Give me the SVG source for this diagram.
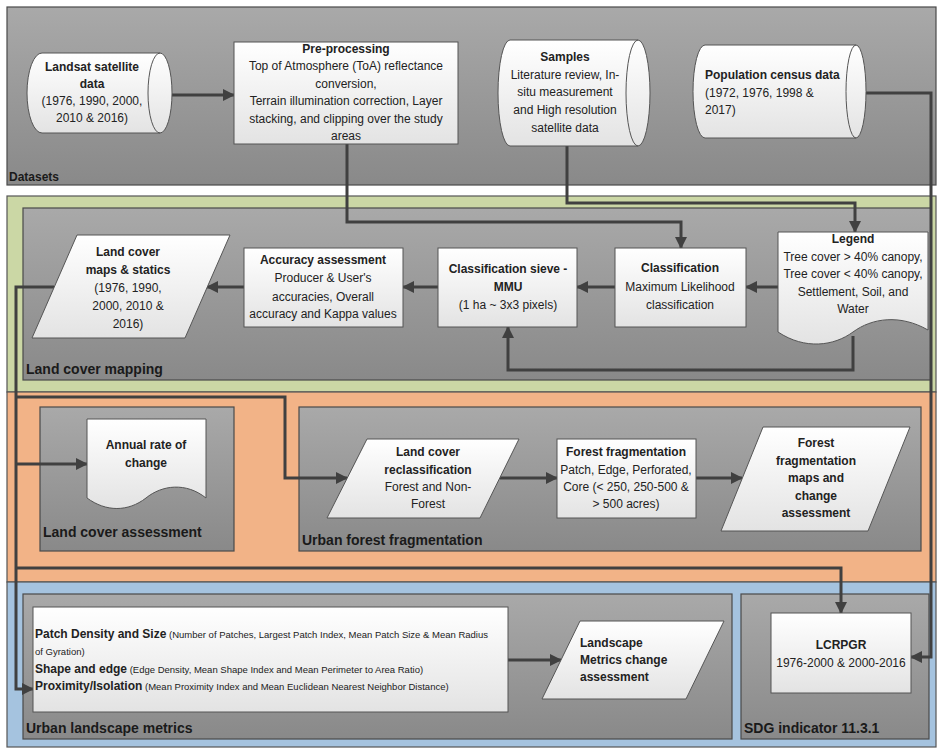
<svg xmlns="http://www.w3.org/2000/svg" width="938" height="749" viewBox="0 0 938 749">
<defs>
<linearGradient id="gp" x1="0" y1="0" x2="0" y2="1"><stop offset="0" stop-color="#a9a9a9"/><stop offset="1" stop-color="#898989"/></linearGradient>
<linearGradient id="gn" x1="0" y1="0" x2="0" y2="1"><stop offset="0" stop-color="#ffffff"/><stop offset="1" stop-color="#e3e3e3"/></linearGradient>
<marker id="ah" viewBox="0 0 12 12" refX="11" refY="6" markerWidth="12" markerHeight="12" markerUnits="userSpaceOnUse" orient="auto"><path d="M0,0 L12,6 L0,12 Z" fill="#404040"/></marker>
<style>
.band{stroke:#555;stroke-width:1.2}
.panel{fill:url(#gp);stroke:#4a4a4a;stroke-width:1.2}
.node{fill:url(#gn);stroke:#555;stroke-width:1}
.t{font-family:"Liberation Sans",Arial,sans-serif;font-size:12px;fill:#222}
.b{font-weight:bold}
.c{text-anchor:middle}
.lab{font-family:"Liberation Sans",Arial,sans-serif;font-size:14px;font-weight:bold;fill:#1a1a1a}
.s{font-size:9.5px;font-weight:normal}
.con{fill:none;stroke:#404040;stroke-width:3}
.arr{marker-end:url(#ah)}
</style>
</defs>
<rect width="938" height="749" fill="#ffffff"/>

<g id="band-datasets">
<rect class="panel" x="7" y="7" width="929" height="178"/>
<text class="lab" x="9" y="181" style="font-size:12px">Datasets</text>
</g>
<g id="band-landcover">
<rect class="band" x="7" y="196" width="929" height="196" fill="#cbd7a5"/>
<rect class="panel" x="23" y="208" width="908" height="172"/>
<text class="lab" x="26" y="374">Land cover mapping</text>
</g>
<g id="band-orange">
<rect class="band" x="7" y="392" width="929" height="190" fill="#f2b387"/>
</g>
<g id="panel-lca">
<rect class="panel" x="40" y="407" width="194" height="144"/>
<text class="lab" x="43" y="537">Land cover assessment</text>
</g>
<g id="panel-uff">
<rect class="panel" x="299" y="407" width="622" height="144"/>
<text class="lab" x="302" y="545">Urban forest fragmentation</text>
</g>
<g id="band-blue">
<rect class="band" x="7" y="582" width="929" height="165" fill="#a5c3df"/>
</g>
<g id="panel-ulm">
<rect class="panel" x="23" y="594" width="709" height="145"/>
<text class="lab" x="26" y="733">Urban landscape metrics</text>
</g>
<g id="panel-sdg">
<rect class="panel" x="741" y="594" width="188" height="145"/>
<text class="lab" x="744" y="733">SDG indicator 11.3.1</text>
</g>

<g id="connectors">
<path class="con arr" d="M172,95 H234"/>
<path class="con arr" d="M347,144 V222 H681 V248"/>
<path class="con arr" d="M567,146 V203 H855 V232"/>
<path class="con arr" d="M866,93 H931 V657 H911"/>
<path class="con arr" d="M778,287 H746"/>
<path class="con arr" d="M615,287 H577"/>
<path class="con arr" d="M438,287 H403"/>
<path class="con arr" d="M244,287 H207"/>
<path class="con arr" d="M853,336 V370 H508 V327"/>
<path class="con arr" d="M54,287 H16 V689 H33"/>
<path class="con arr" d="M16,397 H285 V478 H347"/>
<path class="con arr" d="M16,464 H87"/>
<path class="con arr" d="M16,568 H841 V613"/>
<path class="con arr" d="M500,478 H557"/>
<path class="con arr" d="M696,478 H742"/>
<path class="con arr" d="M508,660 H561"/>
</g>

<g id="landsat">
<path class="node" d="M42,53 H160 A12,40 0 0 1 160,133 H42 A15,40 0 0 1 42,53 Z"/>
<path d="M160,53 A12,40 0 0 0 160,133" fill="none" stroke="#555"/>
<text class="t c" x="92"><tspan class="b" x="92" y="71">Landsat satellite</tspan><tspan class="b" x="92" y="88">data</tspan><tspan x="92" y="105">(1976, 1990, 2000,</tspan><tspan x="92" y="122">2010 &amp; 2016)</tspan></text>
</g>
<g id="preprocessing">
<rect class="node" x="234" y="42" width="224" height="102"/>
<text class="t c"><tspan class="b" x="346" y="53">Pre-processing</tspan><tspan x="346" y="70">Top of Atmosphere (ToA) reflectance</tspan><tspan x="346" y="88">conversion,</tspan><tspan x="346" y="105">Terrain illumination correction, Layer</tspan><tspan x="346" y="123">stacking, and clipping over the study</tspan><tspan x="346" y="140">areas</tspan></text>
</g>
<g id="samples">
<path class="node" d="M510,40 H638 A12,53 0 0 1 638,146 H510 A12,53 0 0 1 510,40 Z"/>
<path d="M638,40 A12,53 0 0 0 638,146" fill="none" stroke="#555"/>
<text class="t c"><tspan class="b" x="565" y="61">Samples</tspan><tspan x="565" y="79">Literature review, In-</tspan><tspan x="565" y="96">situ measurement</tspan><tspan x="565" y="114">and High resolution</tspan><tspan x="565" y="132">satellite data</tspan></text>
</g>
<g id="population">
<path class="node" d="M705,45 H856 A10,46.5 0 0 1 856,138 H705 A12,46.5 0 0 1 705,45 Z"/>
<path d="M856,45 A10,46.5 0 0 0 856,138" fill="none" stroke="#555"/>
<text class="t"><tspan class="b" x="705" y="79">Population census data</tspan><tspan x="705" y="97">(1972, 1976, 1998 &amp;</tspan><tspan x="705" y="114">2017)</tspan></text>
</g>

<g id="legend">
<path class="node" d="M778,232 H928 V330 C900,314 872,318 853,332 C834,346 805,350 778,332 Z"/>
<text class="t c"><tspan class="b" x="853" y="243">Legend</tspan><tspan x="853" y="261">Tree cover &gt; 40% canopy,</tspan><tspan x="853" y="278">Tree cover &lt; 40% canopy,</tspan><tspan x="853" y="296">Settlement, Soil, and</tspan><tspan x="853" y="313">Water</tspan></text>
</g>
<g id="classification">
<rect class="node" x="615" y="248" width="131" height="79"/>
<text class="t c"><tspan class="b" x="680" y="272">Classification</tspan><tspan x="680" y="291">Maximum Likelihood</tspan><tspan x="680" y="309">classification</tspan></text>
</g>
<g id="sieve">
<rect class="node" x="438" y="248" width="139" height="79"/>
<text class="t c"><tspan class="b" x="508" y="273">Classification sieve -</tspan><tspan class="b" x="508" y="291">MMU</tspan><tspan x="508" y="309">(1 ha ~ 3x3 pixels)</tspan></text>
</g>
<g id="accuracy">
<rect class="node" x="244" y="248" width="159" height="79"/>
<text class="t c"><tspan class="b" x="323" y="264">Accuracy assessment</tspan><tspan x="323" y="282">Producer &amp; User's</tspan><tspan x="323" y="301">accuracies, Overall</tspan><tspan x="323" y="318">accuracy and Kappa values</tspan></text>
</g>
<g id="maps">
<path class="node" d="M77,235 H230 L185,338 H32 Z"/>
<text class="t c"><tspan class="b" x="128" y="256">Land cover</tspan><tspan class="b" x="128" y="274">maps &amp; statics</tspan><tspan x="128" y="292">(1976, 1990,</tspan><tspan x="128" y="310">2000, 2010 &amp;</tspan><tspan x="128" y="328">2016)</tspan></text>
</g>

<g id="annual">
<path class="node" d="M87,419 H206 V498 C186,482 162,485 146,498 C128,512 106,512 87,498 Z"/>
<text class="t c b"><tspan x="146" y="449">Annual rate of</tspan><tspan x="146" y="467">change</tspan></text>
</g>
<g id="reclass">
<path class="node" d="M367,439 H519 L480,518 H327 Z"/>
<text class="t c"><tspan class="b" x="428" y="456">Land cover</tspan><tspan class="b" x="428" y="474">reclassification</tspan><tspan x="428" y="491">Forest and Non-</tspan><tspan x="428" y="508">Forest</tspan></text>
</g>
<g id="fragmentation">
<rect class="node" x="557" y="439" width="139" height="79"/>
<text class="t c"><tspan class="b" x="626" y="456">Forest fragmentation</tspan><tspan x="626" y="474">Patch, Edge, Perforated,</tspan><tspan x="626" y="491">Core (&lt; 250, 250-500 &amp;</tspan><tspan x="626" y="508">&gt; 500 acres)</tspan></text>
</g>
<g id="fragmaps">
<path class="node" d="M763,427 H910 L868,531 H721 Z"/>
<text class="t c b"><tspan x="816" y="447">Forest</tspan><tspan x="816" y="465">fragmentation</tspan><tspan x="816" y="482">maps and</tspan><tspan x="816" y="500">change</tspan><tspan x="816" y="517">assessment</tspan></text>
</g>

<g id="metrics">
<rect class="node" x="33" y="607" width="475" height="105"/>
<text class="t" x="35" y="638"><tspan class="b">Patch Density and Size</tspan><tspan class="s"> (Number of Patches, Largest Patch Index, Mean Patch Size &amp; Mean Radius</tspan></text>
<text class="t s" x="35" y="655">of Gyration)</text>
<text class="t" x="35" y="673"><tspan class="b">Shape and edge</tspan><tspan class="s"> (Edge Density, Mean Shape Index and Mean Perimeter to Area Ratio)</tspan></text>
<text class="t" x="35" y="690"><tspan class="b">Proximity/Isolation</tspan><tspan class="s"> (Mean Proximity Index  and Mean Euclidean Nearest Neighbor Distance)</tspan></text>
</g>
<g id="landscape">
<path class="node" d="M580,621 H724 L686,699 H542 Z"/>
<text class="t b"><tspan x="580" y="647">Landscape</tspan><tspan x="580" y="664">Metrics change</tspan><tspan x="580" y="681">assessment</tspan></text>
</g>
<g id="lcrpgr">
<rect class="node" x="771" y="613" width="140" height="80"/>
<text class="t c"><tspan class="b" x="841" y="649">LCRPGR</tspan><tspan x="841" y="667">1976-2000 &amp; 2000-2016</tspan></text>
</g>
</svg>
